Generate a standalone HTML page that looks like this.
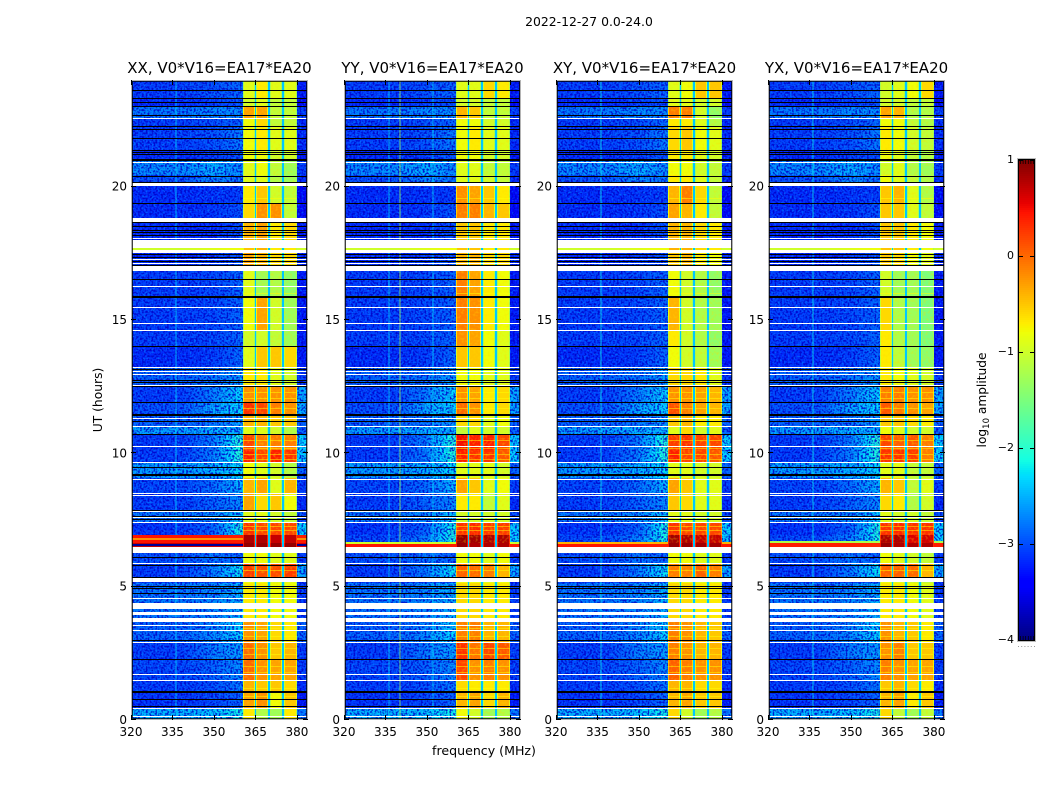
<!DOCTYPE html>
<html>
<head>
<meta charset="utf-8">
<title>2022-12-27 dynamic spectra</title>
<style>
html,body{margin:0;padding:0;background:#fff;}
svg{display:block;font-family:"DejaVu Sans","Liberation Sans",sans-serif;fill:#000;}
</style>
</head>
<body>
<svg id="chart" xmlns="http://www.w3.org/2000/svg" width="1050" height="800" viewBox="0 0 1050 800">
  <defs>
    <filter id="speckle-dark" x="0" y="0" width="1" height="1" color-interpolation-filters="sRGB">
      <feTurbulence type="fractalNoise" baseFrequency="0.52" numOctaves="1" seed="3"/>
      <feColorMatrix values="0 0 0 0 0  0 0 0 0 0  0 0 0 0 0.78  4.5 0 0 0 -2"/>
      <feComposite in2="SourceGraphic" operator="in"/>
    </filter>
    <filter id="speckle-light" x="0" y="0" width="1" height="1" color-interpolation-filters="sRGB">
      <feTurbulence type="fractalNoise" baseFrequency="0.5" numOctaves="1" seed="11"/>
      <feColorMatrix values="0 0 0 0 0  0 0 0 0 0.55  0 0 0 0 1  0 4.5 0 0 -2.2"/>
      <feComposite in2="SourceGraphic" operator="in"/>
    </filter>
    <filter id="speckle-warm" x="0" y="0" width="1" height="1" color-interpolation-filters="sRGB">
      <feTurbulence type="fractalNoise" baseFrequency="0.42" numOctaves="1" seed="7"/>
      <feColorMatrix values="0 0 0 0 1  0 0 0 0 0.85  0 0 0 0 0  4 0 0 0 -1.9"/>
      <feComposite in2="SourceGraphic" operator="in"/>
    </filter>
  </defs>
  <text x="589" y="26" font-size="12.4" text-anchor="middle">2022-12-27 0.0-24.0</text>
  <text transform="translate(102,400) rotate(-90)" font-size="12.3" text-anchor="middle">UT (hours)</text>
  <text x="484" y="755" font-size="12.6" text-anchor="middle">frequency (MHz)</text>
  <text transform="translate(986,400) rotate(-90)" font-size="12.2" text-anchor="middle">log<tspan font-size="8.5" dy="3">10</tspan><tspan dy="-3"> amplitude</tspan></text>
  <g id="panels"></g>
  <g id="colorbar"></g>
</svg>
<script>
// Time segment boundaries (hours UT, descending)
const hourEdges = [24,23.33,23.03,22.54,22.24,21.38,21.0,20.44,20.03,19.39,18.68,18.0,17.7,17.63,17.51,16.84,15.86,14.63,14.03,13.24,12.53,11.93,11.48,11.03,10.73,10.13,9.68,9.08,8.51,7.88,7.43,6.94,6.64,6.49,5.85,5.36,5.14,3.68,2.93,2.25,1.5,1.05,0.45,0];

// Frequency band boundaries (MHz)
const bandEdges = [320,345,355,360.5,364.7,365.3,369.7,370.3,374.7,375.3,380,384];
// Frequencies where the out-of-band left / mid / ramp levels are read
const outOfBandAnchors = [320,338,350,359,360.5];

// Out-of-channel log10 amplitudes per time segment
const leftLevels = [-3.05,-3.15,-2.75,-3.05,-3.05,-3.15,-2.65,-2.95,-3.15,-3.15,-3.15,-3.15,-1,-3.05,-3.15,-3.05,-3.05,-3.05,-3.15,-2.85,-3.05,-2.95,-2.85,-2.55,-3.05,-3.05,-2.55,-3,-3.05,-2.75,-3.1,-3.05,-3.05,-2.95,-3.05,-3.05,-2.75,-2.85,-3.05,-3,-3.05,-3.1,-2.45];
const midLevels = [-2.95,-3.05,-2.65,-2.95,-2.95,-3.05,-2.45,-2.65,-3.1,-3.1,-3.15,-3.15,-.9,-3.05,-3.05,-3,-3,-3,-3.05,-2.75,-2.7,-2.5,-2.75,-2.45,-2.7,-2.7,-2.45,-2.8,-2.85,-2.65,-2.85,-2.85,-2.85,-2.75,-2.7,-3.05,-2.65,-2.65,-2.7,-2.85,-2.95,-3,-2.35];
const rampLevels = [-2.85,-2.95,-2.65,-2.85,-2.75,-2.95,-2.65,-2.75,-3.05,-2.95,-2.95,-2.95,-.8,-2.95,-2.95,-2.85,-2.85,-2.85,-2.85,-2.55,-2.3,-2.3,-2.55,-2.45,-2.05,-2.05,-2.25,-2.45,-2.65,-2.35,-2.1,-2.1,-2.1,-2.85,-2.2,-2.95,-2.45,-2.3,-2.55,-2.65,-2.75,-2.85,-2.15];
const edgeLevels = [-3.25,-3.35,-3.05,-3.15,-3.15,-3.25,-3.05,-3.15,-3.35,-3.35,-3.25,-3.25,-1,-3.25,-3.15,-3.25,-3.25,-3.25,-3.25,-3.05,-2.5,-2.5,-2.85,-2.85,-2.3,-2.3,-2.85,-3.05,-3.15,-2.95,-2.3,-2.3,-2.3,-3.05,-2.5,-3.25,-3.05,-2.85,-3.05,-3.05,-3.15,-3.25,-2.75];
const gapLevel = -2.4;

// Interference rows [left, mid, ramp, edge] for segments 31 and 32, one pair per panel
const xxStorm = [[.45,.45,.4,.4],[.7,.65,.6,.6]];
const yyStorm = [[-3,-2.7,-2.1,-2.3],[.45,.45,.4,.4]];
const xyStorm = [[-3,-2.7,-2.1,-2.3],[.45,.45,.4,.45]];
const yxStorm = [[-3,-2.7,-2.1,-2.3],[.4,.4,.35,.4]];

// Thin full-width rows per panel: [hour, log10 amplitude]
const xxThinRows = [[6.81,-.2],[6.6,-3.9]];
const yyThinRows = [[6.69,-1.0]];
const xyThinRows = [[6.69,-.4]];
const yxThinRows = [[6.72,-1.2]];

// In-band channel log10 amplitudes per time segment: [ch1, ch2, ch3, ch4]
const xxChannels = [[-.9,-.7,-.9,-.9],[-1,-.9,-1.1,-1.1],[-.3,-.3,-1.1,-1.1],[-.8,-.6,-1.1,-1.1],[-.8,-.7,-.9,-.9],[-.8,-.8,-1,-1],[-.9,-.8,-1.1,-1.3],[-.9,-.9,-1.2,-1.3],[-.7,-.5,-1,-1.1],[-.6,-.2,-.2,-1.1],[-.4,-.3,-.7,-.6],[-.4,-.3,-.7,-.6],[-.5,-.4,-.7,-.7],[-.4,-.3,-.7,-.6],[-.3,-.4,-.6,-.6],[-.9,-1.3,-1.2,-1.4],[-.8,-.3,-1,-1.3],[-1,-1,-1.1,-1.3],[-.9,-.5,-.5,-.6],[-.7,-.7,-.9,-1],[-.2,-.2,-.2,-.2],[.3,.2,-.1,-.2],[-.4,-.4,-.5,-.5],[-.9,-.9,-1,-1.2],[.2,-.1,-.1,-.1],[.4,.2,.4,.3],[-.8,-.9,-1,-1.2],[-.4,-.3,-.9,-.4],[-.3,-.6,-.5,-.8],[-.9,-.9,-1,-1.1],[.3,.2,.2,.2],[.8,.8,.7,.7],[.9,.9,.9,.9],[-.8,-.8,-.9,-.9],[.25,.15,.15,.25],[-.8,-.8,-.9,-.9],[-.7,-.7,-.8,-.8],[-.2,-.3,-.6,-.7],[0,-.2,-.5,-.4],[0,-.2,-.3,-.3],[-.4,-.5,-.5,-.6],[-.3,-.2,-.8,-.5],[-.7,-1.2,-1.3,-.7]];
const yyChannels = [[-.9,-.9,-.6,-.7],[-1,-1,-1.1,-1.1],[-.4,-.5,-1.1,-1.1],[-.8,-.8,-1,-1],[-.8,-.7,-.9,-.9],[-.8,-.8,-1,-1],[-.9,-.9,-1.1,-1.1],[-.9,-.9,-1,-1.1],[-.2,-.3,-.5,-.7],[-.1,-.1,-.4,-.5],[-.5,-.5,-.7,-.7],[-.5,-.5,-.7,-.7],[-.5,-.5,-.7,-.7],[-.5,-.5,-.7,-.7],[-.4,-.4,-.6,-.6],[-.1,-.3,-.7,-.8],[-.1,-.2,-.7,-.8],[-.2,-.3,-.8,-.9],[-.5,-.5,-.8,-.9],[-.8,-.8,-.9,-.9],[-.2,-.3,-.7,-.6],[0,-.2,-.7,-.6],[-.6,-.6,-.9,-.8],[-1.1,-.9,-1,-1],[.5,.4,.4,.2],[.4,.3,.3,.1],[-.9,-.9,-.9,-1],[-.3,-.5,-.9,-.8],[-.7,-.7,-1.1,-.9],[-1,-1,-1,-1],[.3,.35,.25,.25],[.9,.85,.8,.8],[.9,.8,.8,.8],[-.8,-.8,-.9,-.8],[.05,0,-.1,-.4],[-.8,-.8,-.9,-.8],[-.6,-.6,-.7,-.7],[-.1,-.1,-.4,-.4],[.3,-.05,.2,.1],[.2,-.2,-.1,-.2],[-.6,-.7,-.7,-.7],[-.4,-.3,-.6,-.4],[-.8,-1,-1.3,-1.2]];
const xyChannels = [[-.9,-.8,-.5,-.5],[-.9,-.9,-1,-1],[-.1,-.1,-1,-1.4],[-.7,-.7,-.9,-1.2],[-.6,-.5,-.8,-.9],[-.7,-.7,-.9,-1],[-.8,-.8,-1,-1.1],[-.7,-.7,-.9,-1.1],[-.4,-.1,-.6,-1.1],[-.3,-.4,-.7,-1.1],[-.4,-.4,-.6,-.7],[-.4,-.4,-.6,-.7],[-.4,-.4,-.6,-.7],[-.4,-.4,-.6,-.7],[-.5,-.4,-.7,-.8],[-.8,-1,-1.2,-1.4],[-.4,-1,-1.2,-1.3],[-.7,-1,-1.2,-1.4],[-.8,-1,-1.1,-1.3],[-.6,-.6,-.7,-.9],[-.2,-.2,-.3,-.4],[.15,-.1,-.3,-.4],[-.5,-.4,-.7,-.7],[-.9,-.6,-1,-.9],[.25,.3,.2,.2],[.4,.2,.2,.1],[-.9,-.9,-1,-1],[-.3,-.5,-.9,-.9],[-.5,-.6,-.9,-.9],[-.9,-.9,-1,-1],[.3,.2,.2,.2],[.85,.8,.7,.7],[.9,.9,.85,.85],[-.8,-.8,-.9,-.9],[-.1,-.1,.05,-.1],[-.8,-.8,-.9,-.9],[-.6,-.6,-.7,-.7],[-.1,-.2,-.4,-.5],[-.1,-.2,-.4,-.4],[.05,-.1,-.2,-.2],[-.4,-.4,-.6,-.6],[-.4,-.3,-.5,-.5],[-.6,-1,-1.3,-1.2]];
const yxChannels = [[-1,-.9,-.8,-.6],[-1,-1,-1.1,-1.1],[-.3,-.4,-1.2,-1.2],[-.8,-.8,-1.1,-1.2],[-.7,-.8,-1,-1.1],[-.8,-.9,-1.1,-1.2],[-1,-.9,-1.2,-1.3],[-.8,-.9,-1.1,-1.2],[-.5,-.4,-.9,-1.2],[-.5,-.5,-.9,-1.1],[-.5,-.5,-.7,-.8],[-.5,-.5,-.7,-.8],[-.5,-.5,-.7,-.8],[-.5,-.5,-.7,-.8],[-.5,-.6,-.8,-.9],[-1,-1.3,-1.3,-1.5],[-.6,-1.2,-1.3,-1.5],[-.7,-1.2,-1.3,-1.5],[-.7,-1.1,-1.3,-1.4],[-.7,-.8,-.9,-1],[-.1,-.1,-.2,-.2],[.1,-.1,-.2,-.3],[-.5,-.5,-.6,-.7],[-.8,-.9,-1,-1],[.2,.05,.1,-.1],[.3,.3,.25,-.1],[-.9,-.9,-1.1,-1.1],[-.4,-.5,-1.1,-.9],[-.6,-.7,-1.2,-1],[-.9,-1,-1,-1.1],[.3,.35,.3,.3],[.8,.8,.6,.65],[.9,.8,.8,.8],[-.8,-.9,-1,-1.1],[.05,.05,0,-.4],[-.8,-.9,-1,-1.1],[-.7,-.7,-.8,-.9],[-.2,-.4,-.5,-.7],[-.2,-.1,-.5,-.5],[-.1,-.2,-.3,-.3],[-.5,-.4,-.6,-.7],[-.4,-.3,-.7,-.5],[-.6,-1.1,-1.3,-1.1]];

// Flagged times (hours UT)
const whiteBands = [[20.14,20.03],[18.81,18.69],[18.0,17.69],[17.63,17.51],[17.04,16.84],[6.49,6.26],[5.34,5.16],[4.39,4.16],[4.05,3.94],[3.83,3.68]];
const whiteLines = [22.56,20.93,18.08,17.27,17.12,16.26,15.47,14.89,14.61,13.22,13.09,12.96,12.58,11.34,11.03,10.29,9.66,9.05,8.5,8.44,7.84,7.61,7.43,5.87,4.56,3.56,3.36,2.93,1.74,1.51,0.46,0.16];
const blackLines = [23.64,23.34,23.19,23.03,22.67,22.28,22.18,21.81,21.39,21.3,21.23,20.4,20.18,19.37,18.83,18.66,18.54,18.39,18.3,18.19,18.09,17.49,17.36,17.21,17.08,16.52,14.04,13.16,12.75,12.68,12.54,11.93,11.23,10.73,9.47,7.86,7.65,7.52,6.13,5.83,5.38,5.03,4.95,4.78,3.0,2.27,0.77,0.51];
const blackThick = [21.0,15.86,11.44,9.19,1.05];

// Rows of dimmer yellow stripes inside the channels (hours UT)
const channelStripes = [12.3,12.08,11.7,10.5,10.2,9.98,9.79,7.28,7.13,5.63,3.45,3.15,2.7,2.48,2.03,1.8,1.2,0.9,19.58,16.0];

// Narrow-band vertical interference: [frequency MHz, log10 amplitude]
const xxRfi = [[336,-2.3]];
const yyRfi = [[340,-1.3],[336,-2.3],[352,-2.3]];
const xyRfi = [[336,-2.2]];
const yxRfi = [[336,-2.2]];

// Axis ticks and labels
const freqTicks = [320,335,350,365,380];
const hourTicks = [0,5,10,15,20];
const colorTicks = [1,0,-1,-2,-3,-4];
const panelTitles = ['XX, V0*V16=EA17*EA20','YY, V0*V16=EA17*EA20','XY, V0*V16=EA17*EA20','YX, V0*V16=EA17*EA20'];
const panelKeys = ['xx','yy','xy','yx'];

const SVGNS = 'http://www.w3.org/2000/svg';
const panelLeft = [131,344,556,768];
const panelWidth = 177, plotTop = 80, plotBottom = 720;
const scaleHour = h => plotBottom - (h/24)*(plotBottom-plotTop);
const scaleFreq = (f,x0) => x0 + ((f-320)/64)*panelWidth;
const barTop = 160, barBottom = 640, barLeft = 1019, barRight = 1034;
const scaleLevel = v => barTop + ((1-v)/5)*(barBottom-barTop);

function interp(pts,t){
  for(let i=1;i<pts.length;i++){
    if(t<=pts[i][0]){
      const a=pts[i-1],b=pts[i];
      return a[1]+(b[1]-a[1])*(t-a[0])/(b[0]-a[0]);
    }
  }
  return pts[pts.length-1][1];
}
const jetR=[[0,0],[.35,0],[.66,1],[.89,1],[1,.5]];
const jetG=[[0,0],[.125,0],[.375,1],[.64,1],[.91,0],[1,0]];
const jetB=[[0,.5],[.11,1],[.34,1],[.65,0],[1,0]];
function jet(v){
  const t=Math.max(0,Math.min(1,(v+4)/5));
  const c=p=>Math.round(255*interp(p,t));
  return 'rgb('+c(jetR)+','+c(jetG)+','+c(jetB)+')';
}
function shape(parent,tag,name,attrs){
  const el=document.createElementNS(SVGNS,tag);
  
  
  for(const k in attrs){el.setAttribute(k,attrs[k]);}
  parent.appendChild(el);
  return el;
}
function label(parent,name,x,y,txt,anchor,size){
  const el=shape(parent,'text',name,{x:x,y:y,'text-anchor':anchor,'font-size':size});
  el.textContent=txt;
  return el;
}
const channelSets={xx:xxChannels,yy:yyChannels,xy:xyChannels,yx:yxChannels};
const stormSets={xx:xxStorm,yy:yyStorm,xy:xyStorm,yx:yxStorm};
const thinSets={xx:xxThinRows,yy:yyThinRows,xy:xyThinRows,yx:yxThinRows};
const rfiSets={xx:xxRfi,yy:yyRfi,xy:xyRfi,yx:yxRfi};

function stormRow(key,seg){
  return (seg===31||seg===32)?stormSets[key][seg-31]:null;
}
function outLevels(key,seg){
  const st=stormRow(key,seg);
  return st?{l:st[0],m:st[1],r:st[2],e:st[3]}:{l:leftLevels[seg],m:midLevels[seg],r:rampLevels[seg],e:edgeLevels[seg]};
}
function isClean(key,seg){
  const st=stormRow(key,seg);
  return seg===12||(st!==null&&st[0]>-1.5);
}
function drawSegment(cells,key,s,x0){
  const y0=Math.round(scaleHour(hourEdges[s])), y1=Math.round(scaleHour(hourEdges[s+1]));
  const o=outLevels(key,s);
  const profile=[[outOfBandAnchors[0],o.l],[outOfBandAnchors[1],o.l],[outOfBandAnchors[2],o.m],[outOfBandAnchors[3],o.r],[outOfBandAnchors[4],o.r]];
  const bandEnd=bandEdges[3];
  for(let f=bandEdges[0];f<bandEnd;f+=1.5){
    const f2=Math.min(f+1.5,bandEnd);
    const xa=Math.round(scaleFreq(f,x0)), xb=Math.round(scaleFreq(f2,x0));
    shape(cells,'rect','cell-'+key,{x:xa,y:y0,width:xb-xa,height:y1-y0,fill:jet(interp(profile,(f+f2)/2))});
  }
  for(let b=3;b<bandEdges.length-1;b++){
    const xa=Math.round(scaleFreq(bandEdges[b],x0)), xb=Math.round(scaleFreq(bandEdges[b+1],x0));
    let v;
    if(b===10){v=o.e;}
    else if(b===4||b===6||b===8){v=gapLevel;}
    else{v=channelSets[key][s][(b-3)/2];}
    shape(cells,'rect','cell-'+key,{x:xa,y:y0,width:Math.max(1,xb-xa),height:y1-y0,fill:jet(v)});
    if(b!==10&&b!==4&&b!==6&&b!==8){
      const dim=jet(Math.max(v-.45,-1.3));
      shape(cells,'rect','channel-shoulder-'+key,{x:xa,y:y0,width:1,height:y1-y0,fill:dim});
      shape(cells,'rect','channel-shoulder-'+key,{x:xb-1,y:y0,width:1,height:y1-y0,fill:dim});
    }
  }
}

const root=document.getElementById('panels');
panelKeys.forEach((key,p)=>{
  const x0=panelLeft[p];
  const g=shape(root,'g','panel-'+key,{});
  const cells=shape(g,'g','heatmap-'+key,{'shape-rendering':'crispEdges'});
  for(let s=0;s<hourEdges.length-1;s++){
    if(!isClean(key,s)){drawSegment(cells,key,s,x0);}
  }
  // channel stripes and noise texture
  const chanBands=[3,5,7,9];
  chanBands.forEach(b=>{
    const xa=Math.round(scaleFreq(bandEdges[b],x0)), xb=Math.round(scaleFreq(bandEdges[b+1],x0));
    shape(g,'rect','speckle-warm-'+key,{x:xa,y:plotTop,width:xb-xa,height:plotBottom-plotTop,fill:'#000',filter:'url(#speckle-warm)',opacity:.3});
    channelStripes.forEach(h=>{
      shape(g,'rect','channel-stripe-'+key,{x:xa,y:Math.round(scaleHour(h)),width:xb-xa,height:1,fill:'#ff0',opacity:.5,'shape-rendering':'crispEdges'});
    });
  });
  const xs=scaleFreq(320,x0), xe=scaleFreq(360.5,x0), xr=scaleFreq(380,x0), xf=scaleFreq(384,x0);
  [[xs,xe],[xr,xf]].forEach(z=>{
    shape(g,'rect','speckle-light-'+key,{x:z[0],y:plotTop,width:z[1]-z[0],height:plotBottom-plotTop,fill:'#000',filter:'url(#speckle-light)',opacity:.5});
    shape(g,'rect','speckle-dark-'+key,{x:z[0],y:plotTop,width:z[1]-z[0],height:plotBottom-plotTop,fill:'#000',filter:'url(#speckle-dark)',opacity:.85});
  });
  rfiSets[key].forEach(r=>{
    shape(g,'rect','rfi-line-'+key,{x:scaleFreq(r[0],x0),y:plotTop,width:1,height:plotBottom-plotTop,fill:jet(r[1]),opacity:.75,'shape-rendering':'crispEdges'});
  });
  // rows without noise drawn above the texture
  const clean=shape(g,'g','clean-rows-'+key,{'shape-rendering':'crispEdges'});
  for(let s=0;s<hourEdges.length-1;s++){
    if(isClean(key,s)){drawSegment(clean,key,s,x0);}
  }
  thinSets[key].forEach(t=>{
    shape(clean,'rect','thin-row-'+key,{x:x0,y:Math.round(scaleHour(t[0])),width:scaleFreq(360.5,x0)-x0,height:2,fill:jet(t[1])});
    shape(clean,'rect','thin-row-'+key,{x:scaleFreq(380,x0),y:Math.round(scaleHour(t[0])),width:scaleFreq(384,x0)-scaleFreq(380,x0),height:2,fill:jet(t[1])});
  });
  const flags=shape(g,'g','flags-'+key,{'shape-rendering':'crispEdges'});
  blackLines.forEach(h=>{
    shape(flags,'rect','flag-black',{x:x0,y:Math.round(scaleHour(h)),width:panelWidth,height:1,fill:'#000'});
  });
  blackThick.forEach(h=>{
    shape(flags,'rect','flag-black-thick',{x:x0,y:Math.round(scaleHour(h))-1,width:panelWidth,height:2,fill:'#000'});
  });
  whiteBands.forEach(w=>{
    const ya=Math.round(scaleHour(w[0])), yb=Math.round(scaleHour(w[1]));
    shape(flags,'rect','flag-white-band',{x:x0,y:ya,width:panelWidth,height:yb-ya,fill:'#fff'});
  });
  whiteLines.forEach(h=>{
    shape(flags,'rect','flag-white',{x:x0,y:Math.round(scaleHour(h)),width:panelWidth,height:1,fill:'#fff'});
  });
  // frame: light outer line with a dark line just inside
  shape(g,'rect','frame-halo-'+key,{x:x0+.5,y:plotTop+.5,width:panelWidth-1,height:plotBottom-plotTop-1,fill:'none',stroke:'#b4b4b4','stroke-width':1,'shape-rendering':'crispEdges'});
  shape(g,'rect','frame-'+key,{x:x0+1.5,y:plotTop+1.5,width:panelWidth-3,height:plotBottom-plotTop-3,fill:'none',stroke:'#000','stroke-width':1,'stroke-opacity':.75,'shape-rendering':'crispEdges'});
  // ticks
  freqTicks.forEach(f=>{
    const x=Math.round(scaleFreq(f,x0))+.5;
    shape(g,'line','x-tick',{x1:x,x2:x,y1:plotBottom,y2:plotBottom-5,stroke:'#000','stroke-width':1});
    shape(g,'line','x-tick-top',{x1:x,x2:x,y1:plotTop,y2:plotTop+5,stroke:'#000','stroke-width':1});
    label(g,'x-tick-label',scaleFreq(f,x0),736,String(f),'middle',12);
  });
  hourTicks.forEach(h=>{
    const y=Math.round(scaleHour(h))-.5;
    shape(g,'line','y-tick',{x1:x0,x2:x0+5,y1:y,y2:y,stroke:'#000','stroke-width':1});
    shape(g,'line','y-tick-right',{x1:x0+panelWidth,x2:x0+panelWidth-5,y1:y,y2:y,stroke:'#000','stroke-width':1});
    label(g,'y-tick-label',x0-4,scaleHour(h)+4,String(h),'end',12);
  });
  label(g,'panel-title-'+key,x0+panelWidth/2,73,panelTitles[p],'middle',15);
});

// colorbar
const bar=document.getElementById('colorbar');
const barCells=shape(bar,'g','colorbar-gradient',{'shape-rendering':'crispEdges'});
for(let py=barTop;py<barBottom;py+=2){
  const v=1-((py+1-barTop)/(barBottom-barTop))*5;
  shape(barCells,'rect','colorbar-step',{x:barLeft,y:py,width:barRight-barLeft,height:2,fill:jet(v)});
}
shape(bar,'rect','colorbar-frame',{x:barLeft-.5,y:barTop-.5,width:barRight-barLeft+1,height:barBottom-barTop+1,fill:'none',stroke:'#000','stroke-width':1,'shape-rendering':'crispEdges'});
shape(bar,'rect','colorbar-halo',{x:barLeft-1.5,y:barTop-1.5,width:barRight-barLeft+3,height:barBottom-barTop+3,fill:'none',stroke:'#bbb','stroke-width':1,'shape-rendering':'crispEdges'});
colorTicks.forEach(v=>{
  const y=Math.round(scaleLevel(v))+.5;
  shape(bar,'line','colorbar-tick',{x1:barLeft,x2:barLeft+4,y1:y,y2:y,stroke:'#000','stroke-width':1});
  shape(bar,'line','colorbar-tick-right',{x1:barRight,x2:barRight-4,y1:y,y2:y,stroke:'#000','stroke-width':1});
  label(bar,'colorbar-tick-label',1014,scaleLevel(v)+3,String(v).replace('-','\u2212'),'end',11);
});
for(let i=0;i<6;i++){
  const x=barLeft+1.5+i*2.6;
  shape(bar,'line','colorbar-minor-top',{x1:x,x2:x,y1:barTop,y2:barTop+4,stroke:'#000','stroke-width':.7});
  shape(bar,'line','colorbar-minor-bottom',{x1:x,x2:x,y1:barBottom,y2:barBottom-4,stroke:'#000','stroke-width':.7});
  shape(bar,'rect','colorbar-dot',{x:barLeft-1+i*3.2,y:646,width:1,height:1,fill:'#999'});
}
</script>
</body>
</html>
